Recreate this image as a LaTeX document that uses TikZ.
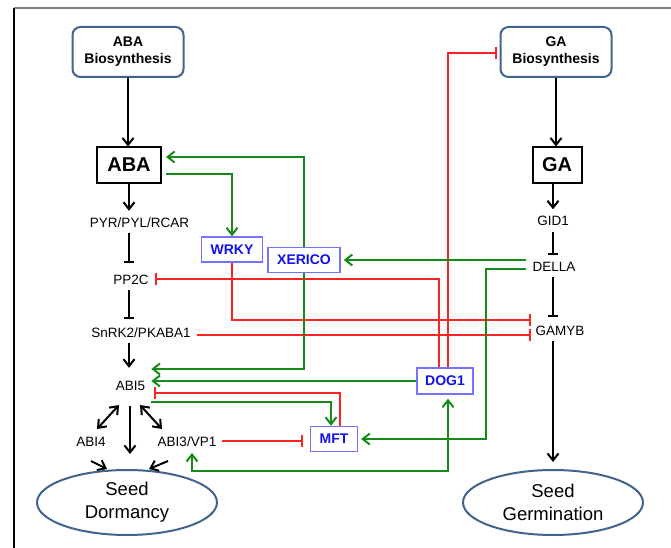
\documentclass[tikz,border=0pt]{standalone}
\usepackage{fontspec}
\setmainfont{Liberation Sans}
\usetikzlibrary{arrows.meta,calc,shapes.geometric}
\definecolor{bord}{HTML}{41648F}
\definecolor{grn}{HTML}{178A17}
\definecolor{rd}{HTML}{FF2222}
\definecolor{btxt}{HTML}{1111EE}
\definecolor{bbox}{HTML}{7373FF}
\definecolor{frm}{HTML}{808080}
\begin{document}
\begin{tikzpicture}[x=1pt,y=-1pt,
 lbl/.style={font=\fontsize{13.5}{16}\selectfont, inner sep=6pt, text height=10pt, text depth=0pt},
 synbox/.style={draw=bord, line width=2pt, rounded corners=8pt, minimum width=111pt, minimum height=50pt, align=center, font=\bfseries\fontsize{14}{17}\selectfont, inner sep=0pt},
 hbox/.style={draw=black, line width=2pt, font=\bfseries\fontsize{20}{24}\selectfont, minimum height=35pt, inner sep=0pt},
 gbox/.style={draw=bbox, line width=1.4pt, text=btxt, font=\bfseries\fontsize{14}{17}\selectfont, minimum height=25pt, inner sep=0pt},
 fate/.style={ellipse, draw=bord, line width=2pt, minimum width=180pt, minimum height=65pt, inner sep=0pt, align=center, font=\fontsize{18.5}{23}\selectfont},
 ar/.style={line width=2pt, -{Straight Barb[length=7pt,width=11pt]}},
 dbl/.style={line width=2pt, {Straight Barb[length=7pt,width=11pt]}-{Straight Barb[length=7pt,width=11pt]}},
 inh/.style={line width=2pt, -{Bar[width=10pt]}},
 gar/.style={ar, draw=grn},
 gdbl/.style={dbl, draw=grn},
 rinh/.style={line width=2pt, draw=rd, -{Bar[width=12pt]}}
]
\useasboundingbox (0,0) rectangle (671,548);
% frame
\draw[frm, line width=2pt] (14,8) -- (671,8);
\draw[black, line width=1.5pt] (14,8) -- (14,548);

% nodes
\node[synbox] (absyn) at (128,52) {ABA\\Biosynthesis};
\node[synbox] (gasyn) at (556,52) {GA\\Biosynthesis};
\node[hbox, minimum width=64pt] (aba) at (129,165) {ABA};
\node[hbox, minimum width=49pt] (ga) at (557,165) {GA};
\node[lbl] (pyr) at (139.5,222) {PYR/PYL/RCAR};
\node[lbl] (pp2c) at (131,279) {PP2C};
\node[lbl] (snrk) at (141,332) {SnRK2/PKABA1};
\node[lbl] (abi5) at (130.5,385) {ABI5};
\node[lbl] (abi4) at (91,441) {ABI4};
\node[lbl] (abi3) at (187,441) {ABI3/VP1};
\node[lbl] (gid1) at (553,220.5) {GID1};
\node[lbl] (della) at (554,266) {DELLA};
\node[lbl] (gamyb) at (560,330) {GAMYB};
\node[gbox, minimum width=61pt] (wrky) at (232,249.5) {WRKY};
\node[gbox, minimum width=72pt] (xerico) at (304,260) {XERICO};
\node[gbox, minimum width=56pt, minimum height=26pt] (dog1) at (445,381) {DOG1};
\node[gbox, minimum width=47pt] (mft) at (334,439) {MFT};
\node[fate] (dorm) at (127,502.5) {Seed\\Dormancy};
\node[fate] (germ) at (553,502.5) {Seed\\Germination};

% black connectors, ABA side
\draw[ar] (absyn.south) -- (absyn.south |- aba.north);
\draw[ar] (aba.south) -- (aba.south |- pyr.north);
\draw[inh] (aba.south |- pyr.south) -- ($(aba.south |- pp2c.north)+(0,-5)$);
\draw[inh] (aba.south |- pp2c.south) -- ($(aba.south |- snrk.north)+(0,-2)$);
\draw[ar] (aba.south |- snrk.south) -- ($(aba.south |- abi5.north)+(0,-6)$);
\draw[dbl] ($(abi5)+(-11.5,20)$) -- ($(abi4)+(6,-12)$);
\draw[dbl] ($(abi5)+(9.5,20)$) -- ($(abi3)+(-25,-12)$);
\draw[ar] ($(abi5.south)+(-0.5,10)$) -- ($(abi5.south |- dorm.north)+(-0.5,-15)$);
\draw[ar] ($(abi4)+(0,20)$) -- ($(dorm.north)+(-20,0)$);
\draw[ar] ($(abi3)+(-19,20)$) -- ($(dorm.north)+(22,0)$);

% black connectors, GA side
\draw[ar] (gasyn.south) -- (gasyn.south |- ga.north);
\draw[ar] (ga.south -| gid1) -- (gid1.north);
\draw[inh] (gid1.south) -- (gid1.south |- della.north);
\draw[inh] (della.south -| gid1) -- ($(gamyb.north -| gid1)+(0,-2)$);
\draw[ar] (gamyb.south -| gid1) -- ($(gid1 |- germ.north)+(0,-7)$);

% red inhibitions
\draw[rinh] ($(dog1.north)+(3,0)$) |- ($(gasyn.west)+(-3,1)$);
\draw[rinh] ($(dog1.north)+(-6,0)$) |- (pp2c.east);
\draw[rinh] (wrky.south) |- ($(gamyb.west)+(2,-10)$);
\draw[rinh] ($(snrk.east)+(0,3)$) -- ($(snrk.east -| gamyb.west)+(2,3)$);
\draw[rinh] ($(mft.north)+(6,0)$) |- ($(abi5.east)+(3,8)$);
\draw[rinh] (abi3.east) -- ($(abi3.east -| mft.west)+(-7,0)$);

% green activations
\draw[gar] (xerico.north) |- ($(aba.east)+(4,-8)$);
\draw[gar] ($(aba.east)+(4,9)$) -| (wrky.north);
\draw[gar] (della.west |- xerico.east) -- ($(xerico.east)+(3,0)$);
\draw[gar] (xerico.south) |- ($(abi5.east)+(0,-16)$);
\draw[gar] (dog1.west) -- (dog1.west -| abi5.east);
\draw[gar] ($(abi5.east)+(0,17)$) -| ($(mft.north)+(-3,0)$);
\draw[gar] ($(della.west)+(0,3)$) -- ($(della.west)+(-40,3)$) |- ($(mft.east)+(3,0)$);
\draw[gdbl] ($(abi3)+(5,12)$) -- ($(abi3)+(5,30)$) -| ($(dog1.south)+(3,4)$);
\end{tikzpicture}
\end{document}
